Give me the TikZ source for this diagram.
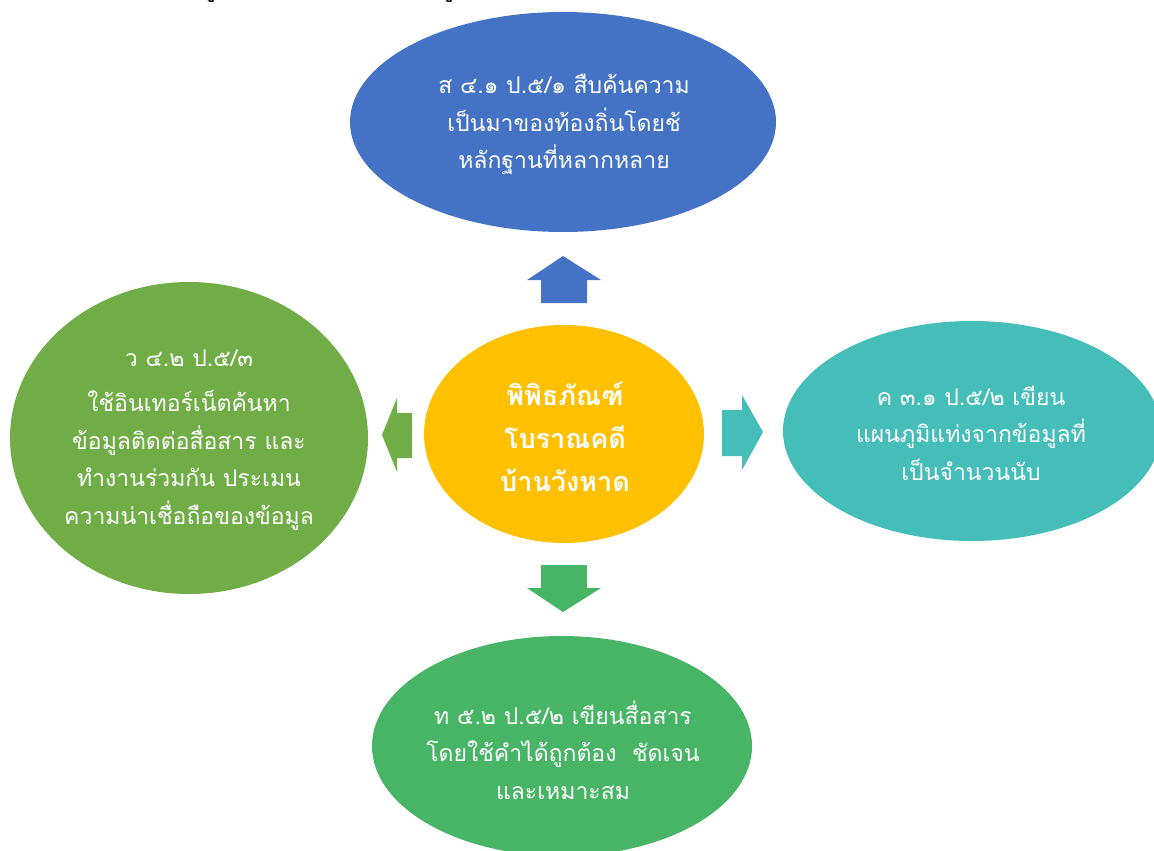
\documentclass[tikz,border=0pt]{standalone}
\usepackage{fontspec}
\setmainfont[Script=Thai]{Loma}
\usetikzlibrary{shapes.geometric}
\definecolor{cblue}{HTML}{4472C4}
\definecolor{cgreen}{HTML}{70AD47}
\definecolor{cyellow}{HTML}{FFC000}
\definecolor{cteal}{HTML}{45BDB9}
\definecolor{cgreenb}{HTML}{47B466}
\tikzset{
  bubble/.style={ellipse, inner sep=0pt, draw=none},
  btxt/.style={text=white, align=center, font=\fontsize{23}{37.5}\selectfont, inner sep=0pt},
  ctxt/.style={text=white, align=center, font=\bfseries\fontsize{27}{43}\selectfont, inner sep=0pt},
  frag/.style={text=black, font=\bfseries\fontsize{20}{24}\selectfont, inner sep=0pt, anchor=base}
}
\begin{document}
\begin{tikzpicture}[x=1pt,y=-1pt]
\useasboundingbox (0,0) rectangle (1154,851);
\node[frag] (f1) at (209,-2) {ดู};
\node[frag] (f2) at (447,-2) {ดู};
% ellipses
\node[bubble, fill=cblue, minimum width=426, minimum height=220] (top) at (563,122) {};
\node[bubble, fill=cgreen, minimum width=358, minimum height=312] (left) at (189,438) {};
\node[bubble, fill=cyellow, minimum width=280, minimum height=218] (mid) at (564,434) {};
\node[bubble, fill=cteal, minimum width=378, minimum height=220] (right) at (972,431) {};
\node[bubble, fill=cgreenb, minimum width=380, minimum height=220] (bot) at (562,746) {};
% arrows
\fill[cblue] (563,256) -- (601,280) -- (587,280) -- (587,303) -- (541,303) -- (541,280) -- (527,280) -- cycle;
\fill[cgreen] (382,435) -- (397,398) -- (397,413) -- (412,413) -- (412,458) -- (397,458) -- (397,472) -- cycle;
\fill[cteal] (763,432) -- (742,395) -- (742,410) -- (722,410) -- (722,456) -- (742,456) -- (742,470) -- cycle;
\fill[cgreenb] (563,612) -- (601,588) -- (587,588) -- (587,565) -- (541,565) -- (541,588) -- (527,588) -- cycle;
% texts
\node[btxt] (ttop) at (564,124.5) {ส ๔.๑ ป.๕/๑ สืบค้นความ\\เป็นมาของท้องถิ่นโดยช้\\หลักฐานที่หลากหลาย};
\node[btxt] (tleft) at (189,440) {ว ๔.๒ ป.๕/๓\\[8pt]ใช้อินเทอร์เน็ตค้นหา\\ข้อมูลติดต่อสื่อสาร และ\\ทำงานร่วมกัน ประเมน\\ความน่าเชื่อถือของข้อมูล};
\node[btxt] (tright) at (971,433) {ค ๓.๑ ป.๕/๒ เขียน\\แผนภูมิแท่งจากข้อมูลที่\\เป็นจำนวนนับ};
\node[btxt] (tbot) at (563,750) {ท ๕.๒ ป.๕/๒ เขียนสื่อสาร\\โดยใช้คำได้ถูกต้อง~ ชัดเจน\\และเหมาะสม};
\node[ctxt] (tmid) at (565,437) {พิพิธภัณฑ์\\โบราณคดี\\บ้านวังหาด};
\end{tikzpicture}
\end{document}
